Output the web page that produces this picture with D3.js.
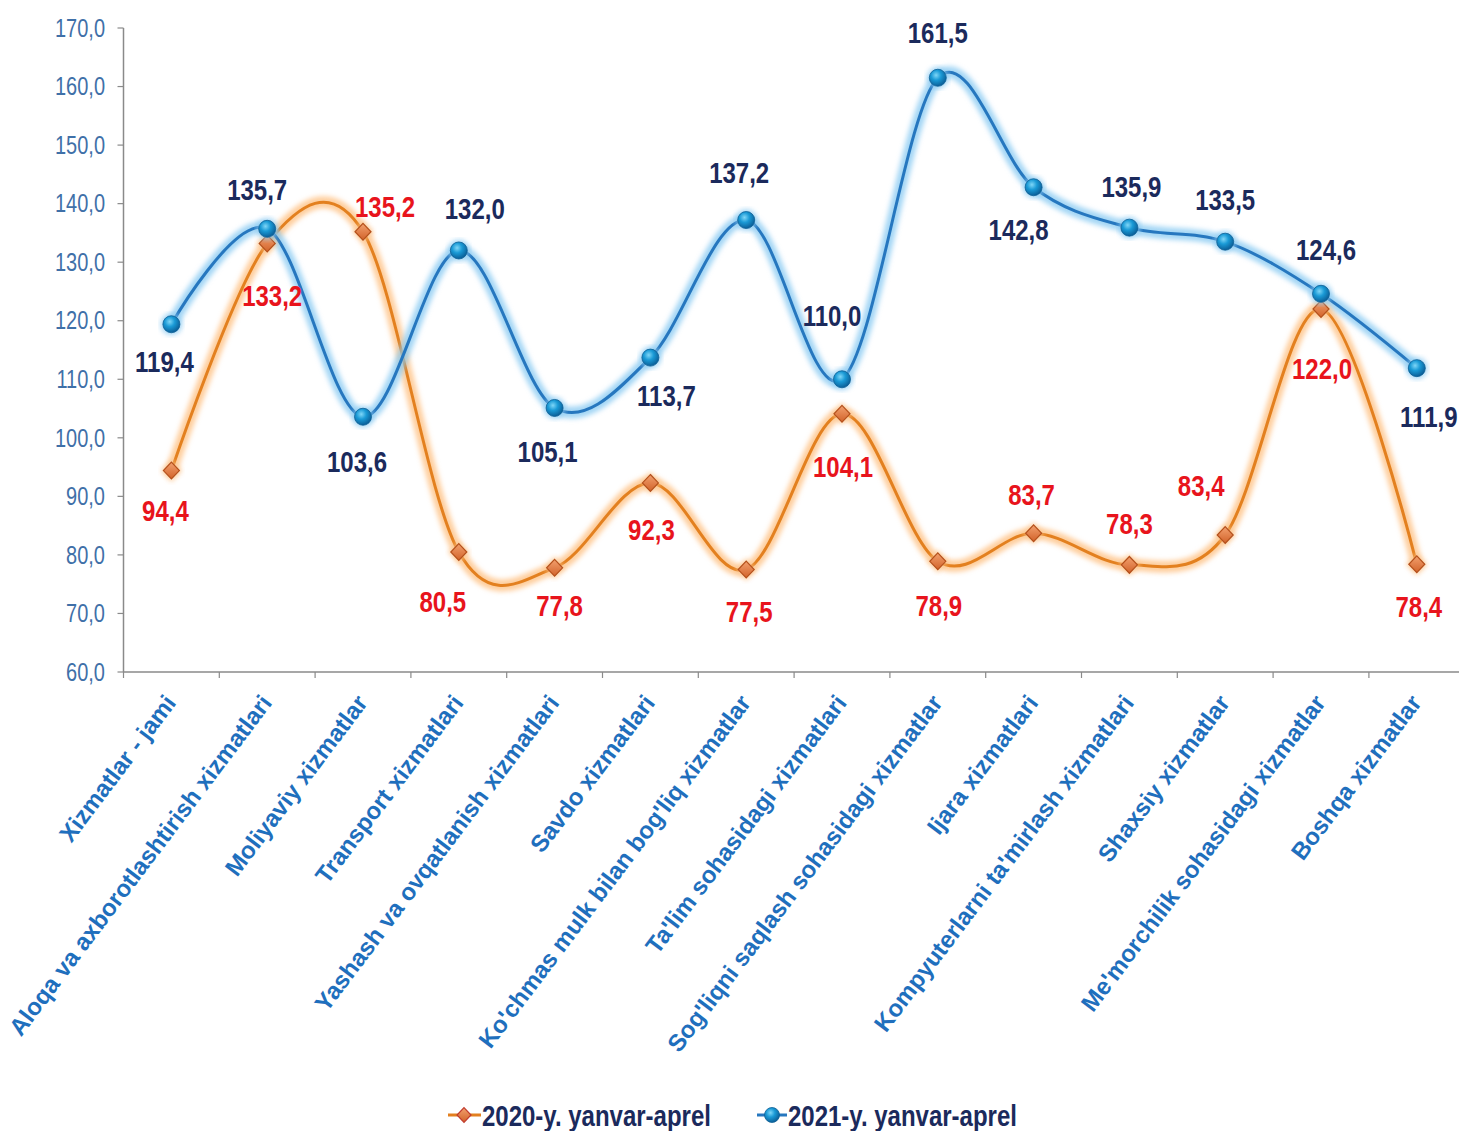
<!DOCTYPE html>
<html>
<head>
<meta charset="utf-8">
<script src="https://cdn.jsdelivr.net/npm/d3@7"></script>
<style>
  html, body { margin: 0; padding: 0; background: #ffffff; }
  svg { display: block; }
  text { font-family: "Liberation Sans", Arial, sans-serif; }
</style>
</head>
<body>
<svg id="chart" width="1459" height="1131"></svg>
<script>
// ---------- DATA ----------
const categories = [
  "Xizmatlar - jami",
  "Aloqa va axborotlashtirish xizmatlari",
  "Moliyaviy xizmatlar",
  "Transport xizmatlari",
  "Yashash va ovqatlanish xizmatlari",
  "Savdo xizmatlari",
  "Ko'chmas mulk bilan bog'liq xizmatlar",
  "Ta'lim sohasidagi xizmatlari",
  "Sog'liqni saqlash sohasidagi xizmatlar",
  "Ijara xizmatlari",
  "Kompyuterlarni ta'mirlash xizmatlari",
  "Shaxsiy xizmatlar",
  "Me'morchilik sohasidagi xizmatlar",
  "Boshqa xizmatlar"
];
const values2020 = [94.4, 133.2, 135.2, 80.5, 77.8, 92.3, 77.5, 104.1, 78.9, 83.7, 78.3, 83.4, 122.0, 78.4];
const values2021 = [119.4, 135.7, 103.6, 132.0, 105.1, 113.7, 137.2, 110.0, 161.5, 142.8, 135.9, 133.5, 124.6, 111.9];
const seriesNames = ["2020-y. yanvar-aprel", "2021-y. yanvar-aprel"];
const yTicks = [60, 70, 80, 90, 100, 110, 120, 130, 140, 150, 160, 170];

// ---------- LAYOUT (label placement, px offsets from the point) ----------
const labelOff2020 = [[-6,40],[5,52],[22,-25],[-16,50],[5,38],[1,47],[3,42],[1,53],[1,44],[-2,-39],[0,-41],[-24,-50],[1,59],[2,42]];
const labelOff2021 = [[-7,37],[-10,-39],[-6,45],[16,-42],[-7,44],[16,38],[-7,-48],[-10,-64],[0,-45],[-15,42],[2,-41],[0,-42],[5,-44],[12,48]];

const SY = 1.25; // vertical text stretch of the reference

const svg = d3.select("#chart");
const plotLeft = 123.5, plotTop = 28, plotBottom = 672;
const step = 95.8;

const x = d3.scaleBand().domain(categories).range([plotLeft, plotLeft + step * categories.length]).paddingInner(0).paddingOuter(0);
const xc = c => x(c) + x.bandwidth() / 2;
const y = d3.scaleLinear().domain([60, 170]).range([plotBottom, plotTop]);

const fmt = v => v.toFixed(1).replace(".", ",");

// defs
const defs = svg.append("defs");
const blur = defs.append("filter").attr("id", "glow").attr("x", "-10%").attr("y", "-10%").attr("width", "120%").attr("height", "120%");
blur.append("feGaussianBlur").attr("stdDeviation", 2.5);

const gb = defs.append("radialGradient").attr("id", "ballGrad").attr("cx", "40%").attr("cy", "35%").attr("r", "65%");
gb.append("stop").attr("offset", "0%").attr("stop-color", "#7fd6f7");
gb.append("stop").attr("offset", "45%").attr("stop-color", "#1a9ad6");
gb.append("stop").attr("offset", "100%").attr("stop-color", "#0b5f98");

const gd = defs.append("linearGradient").attr("id", "diaGrad").attr("x1", "0").attr("y1", "0").attr("x2", "0").attr("y2", "1");
gd.append("stop").attr("offset", "0%").attr("stop-color", "#f2a06e");
gd.append("stop").attr("offset", "100%").attr("stop-color", "#d2632a");

// ---------- AXES ----------
const axisColor = "#8a8a8a";
svg.append("line").attr("x1", plotLeft).attr("x2", plotLeft).attr("y1", y(170)).attr("y2", y(60))
  .attr("stroke", axisColor).attr("stroke-width", 1.5);
svg.selectAll(".ytick").data(yTicks).join("line")
  .attr("x1", plotLeft - 6).attr("x2", plotLeft).attr("y1", d => y(d)).attr("y2", d => y(d))
  .attr("stroke", axisColor).attr("stroke-width", 1.2);
svg.selectAll(".ylab").data(yTicks).join("text")
  .attr("transform", d => `translate(105,${y(d)}) scale(1,${SY})`)
  .attr("dy", "0.35em").attr("text-anchor", "end")
  .attr("font-size", 20).attr("fill", "#3f70a8")
  .text(d => fmt(d));

svg.append("line").attr("x1", plotLeft).attr("x2", 1459).attr("y1", y(60)).attr("y2", y(60))
  .attr("stroke", axisColor).attr("stroke-width", 1.5);
svg.selectAll(".xtick").data(categories).join("line")
  .attr("x1", d => x(d)).attr("x2", d => x(d)).attr("y1", y(60)).attr("y2", y(60) + 6)
  .attr("stroke", axisColor).attr("stroke-width", 1.2);
svg.selectAll(".xlab").data(categories).join("text")
  .attr("transform", d => `translate(${xc(d) - 1},698) rotate(-53)`)
  .attr("dy", "0.35em").attr("text-anchor", "end")
  .attr("font-size", 24).attr("font-weight", "bold").attr("fill", "#1f6fbd")
  .text(d => d);

// ---------- LINES ----------
const line = d3.line().x((d, i) => xc(categories[i])).y(d => y(d)).curve(d3.curveCardinal.tension(0));

function drawSeries(vals, glowColor, coreColor) {
  svg.append("path").attr("d", line(vals)).attr("fill", "none")
    .attr("stroke", glowColor).attr("stroke-width", 12).attr("stroke-opacity", 0.75)
    .attr("stroke-linecap", "round").attr("filter", "url(#glow)");
  svg.append("path").attr("d", line(vals)).attr("fill", "none")
    .attr("stroke", coreColor).attr("stroke-width", 3).attr("stroke-linecap", "round");
}
drawSeries(values2020, "#fdbd7c", "#e3801f");
drawSeries(values2021, "#86c8f2", "#2677bf");

const diamond = (cx, cy, r) => `M${cx},${cy - r * 1.05}L${cx + r},${cy}L${cx},${cy + r * 1.05}L${cx - r},${cy}Z`;
svg.selectAll(".m20glow").data(values2020).join("path")
  .attr("d", (d, i) => diamond(xc(categories[i]), y(d), 11))
  .attr("fill", "#fcc58c").attr("opacity", 0.7).attr("filter", "url(#glow)");
svg.selectAll(".m20").data(values2020).join("path")
  .attr("d", (d, i) => diamond(xc(categories[i]), y(d), 8))
  .attr("fill", "url(#diaGrad)").attr("stroke", "#b4501c").attr("stroke-width", 1.2);

svg.selectAll(".m21glow").data(values2021).join("circle")
  .attr("cx", (d, i) => xc(categories[i])).attr("cy", d => y(d)).attr("r", 11)
  .attr("fill", "#8ccbf2").attr("opacity", 0.7).attr("filter", "url(#glow)");
svg.selectAll(".m21").data(values2021).join("circle")
  .attr("cx", (d, i) => xc(categories[i])).attr("cy", d => y(d)).attr("r", 8.5)
  .attr("fill", "url(#ballGrad)").attr("stroke", "#0d5f95").attr("stroke-width", 0.8);

// ---------- DATA LABELS ----------
svg.selectAll(".l20").data(values2020).join("text")
  .attr("transform", (d, i) => `translate(${xc(categories[i]) + labelOff2020[i][0]},${y(d) + labelOff2020[i][1]}) scale(1,${SY})`)
  .attr("dy", "0.35em").attr("text-anchor", "middle")
  .attr("font-size", 24).attr("font-weight", "bold").attr("fill", "#e8141c")
  .text(d => fmt(d));
svg.selectAll(".l21").data(values2021).join("text")
  .attr("transform", (d, i) => `translate(${xc(categories[i]) + labelOff2021[i][0]},${y(d) + labelOff2021[i][1]}) scale(1,${SY})`)
  .attr("dy", "0.35em").attr("text-anchor", "middle")
  .attr("font-size", 24).attr("font-weight", "bold").attr("fill", "#1b2a5c")
  .text(d => fmt(d));

// ---------- LEGEND ----------
const ly = 1115;
const lg1 = svg.append("g");
lg1.append("line").attr("x1", 448).attr("x2", 481).attr("y1", ly).attr("y2", ly).attr("stroke", "#e3801f").attr("stroke-width", 3);
lg1.append("path").attr("d", diamond(464, ly, 7)).attr("fill", "url(#diaGrad)").attr("stroke", "#c0392b").attr("stroke-width", 1.2);
lg1.append("text").attr("transform", `translate(482,${ly}) scale(1,${SY})`).attr("dy", "0.35em")
  .attr("font-size", 24).attr("font-weight", "bold").attr("fill", "#1b2a5c").text(seriesNames[0]);
const lg2 = svg.append("g");
lg2.append("line").attr("x1", 757).attr("x2", 787).attr("y1", ly).attr("y2", ly).attr("stroke", "#2677bf").attr("stroke-width", 3);
lg2.append("circle").attr("cx", 772).attr("cy", ly).attr("r", 7.5).attr("fill", "url(#ballGrad)").attr("stroke", "#0d5f95").attr("stroke-width", 0.8);
lg2.append("text").attr("transform", `translate(788,${ly}) scale(1,${SY})`).attr("dy", "0.35em")
  .attr("font-size", 24).attr("font-weight", "bold").attr("fill", "#1b2a5c").text(seriesNames[1]);
</script>
</body>
</html>
